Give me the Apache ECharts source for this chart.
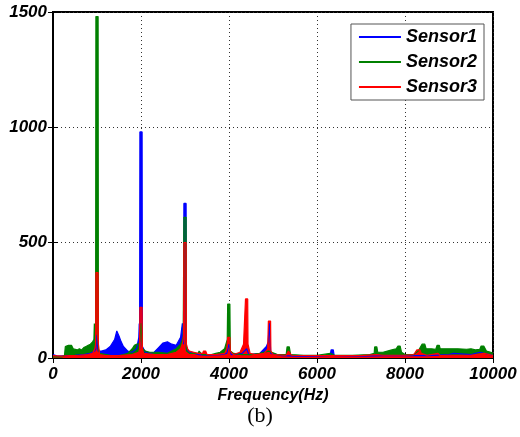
<!DOCTYPE html>
<html>
<head>
<meta charset="utf-8">
<script src="https://cdn.jsdelivr.net/npm/echarts@6/dist/echarts.min.js"></script>
<style>
  html, body { margin: 0; padding: 0; background: #ffffff; }
  #main { width: 520px; height: 437px; }
</style>
</head>
<body>
<div id="main"></div>
<script>
// tick labels
var xTicks = [0, 2000, 4000, 6000, 8000, 10000];
var yTicks = [0, 500, 1000, 1500];
var seriesNames = ['Sensor1', 'Sensor2', 'Sensor3'];

// [frequency(Hz), amplitude]
var sensor1 = [
  [0,15],[100,8],[300,10],[500,12],[700,15],[850,20],[950,30],[975,40],[980,100],[1020,100],[1025,30],
  [1100,30],[1200,35],[1300,50],[1400,80],[1450,117],[1500,95],[1550,70],[1600,50],[1700,30],
  [1800,25],[1900,40],[1950,90],[1960,150],[1968,40],[1975,980],[2025,980],[2032,50],[2100,25],[2200,20],[2300,25],
  [2400,45],[2500,65],[2600,70],[2700,60],[2800,55],[2900,90],[2940,150],[2965,60],[2975,670],[3025,670],[3032,40],
  [3100,25],[3300,15],[3500,12],[3800,15],[3950,20],[4000,60],[4050,15],[4300,20],[4400,40],
  [4450,15],[4700,20],[4850,50],[4890,70],[4915,150],[4950,20],[5200,10],[5500,8],[6000,8],
  [6300,10],[6320,35],[6370,35],[6390,10],[7000,8],[7500,10],[8000,10],[8500,10],[9000,15],[9100,20],
  [9500,15],[9700,25],[10000,10]
];
var sensor2 = [
  [0,5],[200,5],[260,10],[280,50],[350,55],[420,55],[460,40],[550,35],[600,40],[650,35],
  [700,45],[750,50],[800,55],[850,60],[900,70],[930,80],[940,150],[950,70],[968,60],[975,1480],[1025,1480],
  [1032,40],[1060,20],[1100,15],[1300,12],[1500,10],[1600,15],[1700,20],[1800,40],[1850,55],
  [1900,60],[1950,60],[1970,70],[2000,150],[2035,40],[2100,30],[2200,25],[2400,25],[2600,20],
  [2700,30],[2800,40],[2900,60],[2960,90],[2975,610],[3025,610],[3032,30],[3100,20],[3300,20],[3320,30],[3360,30],
  [3390,15],[3600,15],[3700,20],[3800,25],[3900,40],[3960,80],[3970,234],[4020,234],[4030,30],[4100,20],
  [4300,15],[4500,15],[4700,20],[4900,30],[5100,15],[5300,15],[5320,48],[5370,48],[5400,15],[5700,12],
  [6000,12],[6300,20],[6340,25],[6400,12],[6800,12],[7200,15],[7300,20],[7310,48],[7360,48],[7380,25],[7500,25],
  [7600,30],[7700,35],[7800,40],[7840,52],[7890,52],[7920,25],[8000,15],[8200,15],[8300,30],[8390,60],[8450,60],
  [8480,40],[8600,40],[8700,38],[8730,55],[8780,55],[8800,40],[9000,40],[9200,40],[9400,38],[9500,40],
  [9600,35],[9700,38],[9730,52],[9790,52],[9850,30],[9950,25],[10000,20]
];
var sensor3 = [
  [0,10],[200,8],[400,10],[600,12],[800,15],[900,20],[950,40],[968,60],[975,370],[1025,370],[1032,60],
  [1060,15],[1200,10],[1500,10],[1800,15],[1950,25],[1968,40],[1975,220],[2025,220],[2032,40],[2060,20],
  [2300,15],[2600,15],[2800,25],[2900,40],[2950,70],[2968,100],[2975,500],[3025,500],[3032,60],[3060,40],[3100,30],
  [3200,25],[3300,20],[3400,20],[3420,30],[3470,30],[3500,15],[3700,15],[3900,20],[3950,40],[3970,90],[4020,90],
  [4030,30],[4100,15],[4250,25],[4330,60],[4370,60],[4375,256],[4425,256],[4432,60],[4480,20],[4600,15],
  [4800,20],[4880,40],[4895,160],[4945,160],[4952,30],[5000,15],[5300,12],[5350,30],[5390,30],[5420,12],[6000,10],
  [7000,10],[7350,15],[7500,12],[8000,12],[8200,15],[8270,35],[8340,35],[8370,20],[8500,12],[8750,20],
  [8800,10],[9000,12],[9500,12],[9800,20],[10000,10]
];
var colors = ['#0000ff', '#008000', '#ff0000'];

var font = "'Liberation Sans', Arial, sans-serif";
var chart = echarts.init(document.getElementById('main'));

function makeSeries(name, data, color) {
  return {
    name: name,
    type: 'line',
    data: data,
    symbol: 'none',
    animation: false,
    lineStyle: { color: color, width: 1.2 },
    itemStyle: { color: color },
    areaStyle: { color: color, opacity: 1 }
  };
}

var labelStyle = { color: '#000', fontFamily: font, fontWeight: 'bold', fontStyle: 'italic', fontSize: 17 };
var dotted = { show: true, lineStyle: { color: '#333', type: [1, 3], width: 1 } };

chart.setOption({
  animation: false,
  backgroundColor: '#ffffff',
  grid: {
    left: 53, right: 27, top: 12, bottom: 79,
    show: true, borderColor: '#000', borderWidth: 2, backgroundColor: 'transparent'
  },
  legend: {
    data: seriesNames,
    orient: 'vertical',
    right: 36, top: 24,
    padding: [4, 7, 4, 8],
    itemGap: 7,
    itemWidth: 42, itemHeight: 2,
    icon: 'rect',
    backgroundColor: '#fff',
    borderColor: '#555', borderWidth: 1,
    textStyle: { color: '#000', fontFamily: font, fontWeight: 'bold', fontStyle: 'italic', fontSize: 18, lineHeight: 18 }
  },
  xAxis: [{
    type: 'value', min: xTicks[0], max: xTicks[xTicks.length - 1], interval: 2000,
    name: 'Frequency(Hz)', nameLocation: 'middle', nameGap: 28,
    nameTextStyle: Object.assign({}, labelStyle, { fontSize: 16 }),
    axisLine: { show: true, lineStyle: { color: '#000', width: 2 } },
    axisTick: { show: true, inside: true, length: 5, lineStyle: { color: '#000' } },
    axisLabel: Object.assign({ margin: 8, formatter: function (v) { return String(v); } }, labelStyle),
    splitLine: dotted
  }, {
    type: 'value', position: 'top', min: xTicks[0], max: xTicks[xTicks.length - 1], interval: 2000,
    axisLine: { show: true, lineStyle: { color: '#000', width: 2 } },
    axisTick: { show: true, inside: true, length: 5, lineStyle: { color: '#000' } },
    axisLabel: { show: false }, splitLine: { show: false }
  }],
  yAxis: [{
    type: 'value', min: yTicks[0], max: yTicks[yTicks.length - 1], interval: 500,
    axisLine: { show: true, lineStyle: { color: '#000', width: 2 } },
    axisTick: { show: true, inside: true, length: 5, lineStyle: { color: '#000' } },
    axisLabel: Object.assign({ margin: 6, formatter: function (v) { return String(v); } }, labelStyle),
    splitLine: dotted
  }, {
    type: 'value', position: 'right', min: yTicks[0], max: yTicks[yTicks.length - 1], interval: 500,
    axisLine: { show: true, lineStyle: { color: '#000', width: 2 } },
    axisTick: { show: true, inside: true, length: 5, lineStyle: { color: '#000' } },
    axisLabel: { show: false }, splitLine: { show: false }
  }],
  graphic: [{
    type: 'text', left: 'center', top: 405,
    style: { text: '(b)', fill: '#000', font: "22px 'Liberation Serif', 'Times New Roman', serif" }
  }],
  series: [
    makeSeries(seriesNames[0], sensor1, colors[0]),
    makeSeries(seriesNames[1], sensor2, colors[1]),
    makeSeries(seriesNames[2], sensor3, colors[2])
  ]
});
</script>
</body>
</html>
